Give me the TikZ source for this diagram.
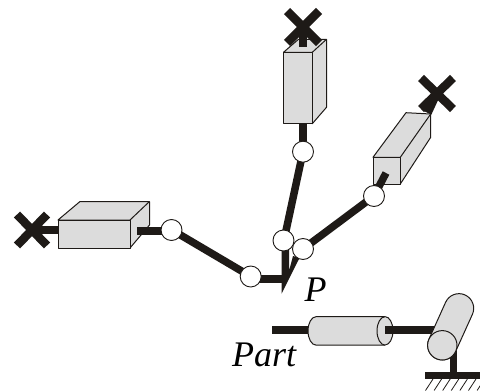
\documentclass[tikz,border=0pt]{standalone}
\usepackage{fontspec}
\setmainfont{Liberation Serif}
\definecolor{ink}{HTML}{1E1A17}
\definecolor{boxg}{HTML}{DCDCDC}
\tikzset{
  rod/.style={line width=7.5pt,draw=ink},
  cross/.style={line width=8.5pt,draw=ink},
  face/.style={fill=boxg,draw=ink,line width=1pt,line join=round},
  hinge/.style={circle,draw=ink,fill=white,line width=0.9pt,minimum size=21pt,inner sep=0pt},
  lbl/.style={inner sep=0pt,text=black,anchor=base west,font=\fontsize{36}{36}\selectfont\itshape},
}
\begin{document}
\begin{tikzpicture}[x=1pt,y=-1pt]
\useasboundingbox (0,0) rectangle (480,391);
% coordinates
\coordinate (xL) at (32,230);
\coordinate (xT) at (303,27);
\coordinate (xR) at (437,93.5);
\coordinate (tip) at (281.7,293.5);
% rods behind the boxes
\draw[rod] (xL) -- (60,230);
\draw[rod] (303,150) -- (303,120);
% left box
\draw[face] (58,220) -- (80,201.5) -- (149.5,201.5) -- (149.5,225) -- (130,248) -- (130,220) -- cycle;
\draw[face] (58,220) rectangle (130,248);
\draw[face] (130,220) -- (149.5,201.5);
% top box
\draw[face] (283.5,52.3) -- (298.5,39.3) -- (326.5,39.3) -- (326.5,107.3) -- (312.3,123.7) -- (312.3,52.3) -- cycle;
\draw[face] (283.5,52.3) rectangle (312.3,123.7);
\draw[face] (312.3,52.3) -- (326.5,39.3);
% right box
\draw[face] (373,157.3) -- (406,112.7) -- (430.7,114) -- (430.7,137.3) -- (400.3,184) -- (400.3,157.3) -- cycle;
\draw[face] (373,157.3) rectangle (400.3,184);
\draw[face] (400.3,157.3) -- (430.7,114);
% crosses and rods over boxes
\draw[cross] (17,214.5) -- (47,245.5) (17,245.5) -- (47,214.5);
\draw[cross] (287,11) -- (319,43) (287,43) -- (319,11);
\draw[cross] (421,78) -- (453,109) (421,109) -- (453,78);
\draw[rod] (xT) -- (303,47);
\draw[rod] (xR) -- (428,113);
\draw[rod] (137,231) -- (172,231);
\draw[rod] (374,196) -- (386,173);
% linkage
\fill[ink] (281.5,245) -- (289,245) -- (289,271) -- (293,256) -- (299.5,258) -- (tip) -- cycle;
\draw[rod] (172,230) -- (250.5,276.3);
\draw[rod] (250.5,279) -- (283,279);
\draw[rod] (303,151.7) -- (284,240);
\draw[rod] (303,249) -- (374,196);
\node[hinge] (h1) at (171.5,230) {};
\node[hinge] (h2) at (250.7,276.5) {};
\node[hinge] (h3) at (283.5,240.5) {};
\node[hinge] (h4) at (303,249) {};
\node[hinge] (h5) at (374,196) {};
\node[hinge] (h6) at (303,151.7) {};
% part mechanism
\draw[rod] (272,330) -- (312,330);
\draw[face] (385,316.7) -- (316,316.7) arc[start angle=270,end angle=90,x radius=8,y radius=14.2] -- (385,345) arc[start angle=90,end angle=-90,x radius=8,y radius=14.2];
\draw[face] (385,316.7) arc[start angle=270,end angle=90,x radius=8,y radius=14.2];
\draw[rod] (385,330) -- (436,330);
\draw[rod] (453.3,350) -- (453.3,376);
\draw[rod] (425,375.5) -- (480,375.5);
\foreach \i in {0,...,7}{\draw[ink,line width=0.8pt] (425.5+\i*8.6,390.5) -- (433+\i*8.6,379);}
\draw[face] (428.9,339.3) -- (445.6,302.3) arc[start angle=204.3,end angle=384.3,radius=14.7] -- (455.7,351.3) arc[start angle=24.3,end angle=204.3,radius=14.7] -- cycle;
\node[circle,draw=ink,fill=boxg,line width=1pt,minimum size=29.4pt,inner sep=0pt] (roll) at (442.3,345.3) {};
% labels
\node[lbl] (p) at (304.5,301.7) {P};
\node[lbl] (part) at (232,366.6) {Part};
\end{tikzpicture}
\end{document}
